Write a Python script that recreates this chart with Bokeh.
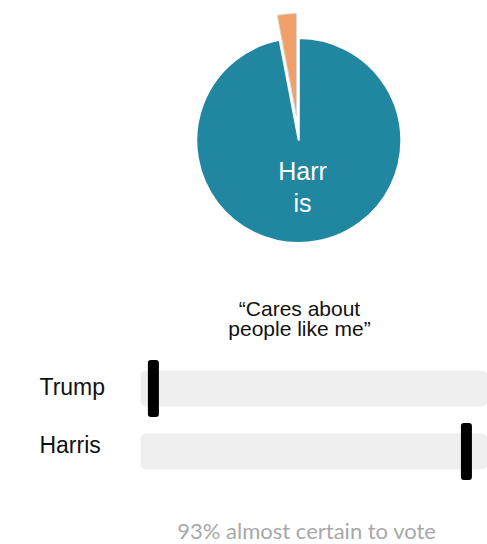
import numpy as np
from bokeh.plotting import figure
from bokeh.layouts import column
from bokeh.models import Range1d
from bokeh.core.properties import value
from bokeh.embed import file_html
from bokeh.resources import INLINE

# ---- data ----
pie_names = ["Trump", "Harris"]
pie_share = [3, 97]
pie_colors = ["#f0a068", "#2186a0"]
pie_explode = [0.24, 0.0]
pie_label = ["Harr", "is"]

rows = ["Trump", "Harris"]
rating = [3.0, 75.8]
title_lines = ["\u201cCares about", "people like me\u201d"]
footnote = "93% almost certain to vote"

# ---- pie ----
p1 = figure(width=487, height=270, x_range=Range1d(-2.910, 1.841),
            y_range=Range1d(-1.268, 1.366), output_backend="svg",
            toolbar_location=None, min_border=0)
p1.axis.visible = False
p1.grid.visible = False
p1.outline_line_color = None

shares = np.array(pie_share, dtype=float)
ends = np.pi / 2 + 2 * np.pi * np.cumsum(shares) / shares.sum()
starts = np.concatenate([[np.pi / 2], ends[:-1]])
mids = (starts + ends) / 2
ex = np.array(pie_explode) * np.cos(mids)
ey = np.array(pie_explode) * np.sin(mids)

p1.wedge(x=ex, y=ey, radius=1.0, start_angle=starts, end_angle=ends,
         fill_color=pie_colors, line_color=["#d8d8d8", "white"], line_width=[1, 2])

p1.text(x=[0.036, 0.036], y=[-0.30, -0.61], text=pie_label,
        text_align="center", text_baseline="alphabetic",
        text_font=value("Liberation Sans"), text_font_size="25px",
        text_color="white")

# ---- bars ----
p2 = figure(width=487, height=274, x_range=Range1d(-32.56, 80.7),
            y_range=Range1d(274, 0), output_backend="svg",
            toolbar_location=None, min_border=0)
p2.axis.visible = False
p2.grid.visible = False
p2.outline_line_color = None

row_y = [118, 181]
p2.hbar(y=row_y, left=0, right=100, height=36, fill_color="#efefef",
        line_color=None, border_radius=6)
p2.rect(x=rating, y=row_y, width=11, height=57, width_units="screen",
        height_units="screen", fill_color="black", line_color=None,
        border_radius=3)

p2.text(x=[-23.5, -23.5], y=[116.3, 174.0], text=rows, text_align="left",
        text_baseline="alphabetic", text_font=value("Liberation Sans"),
        text_font_size="23px", text_color="#111111")

p2.text(x=[36.98, 36.98], y=[38.0, 57.5], text=title_lines, text_align="center",
        text_baseline="alphabetic", text_font=value("Liberation Sans"),
        text_font_size="21px", text_color="#111111")

p2.text(x=[38.7], y=[260], text=[footnote], text_align="center",
        text_baseline="alphabetic", text_font=value("Lato"),
        text_font_size="22px", text_color="#a8a8a8")

layout = column(p1, p2, spacing=0)
open("out.html", "w").write(file_html(layout, INLINE))
